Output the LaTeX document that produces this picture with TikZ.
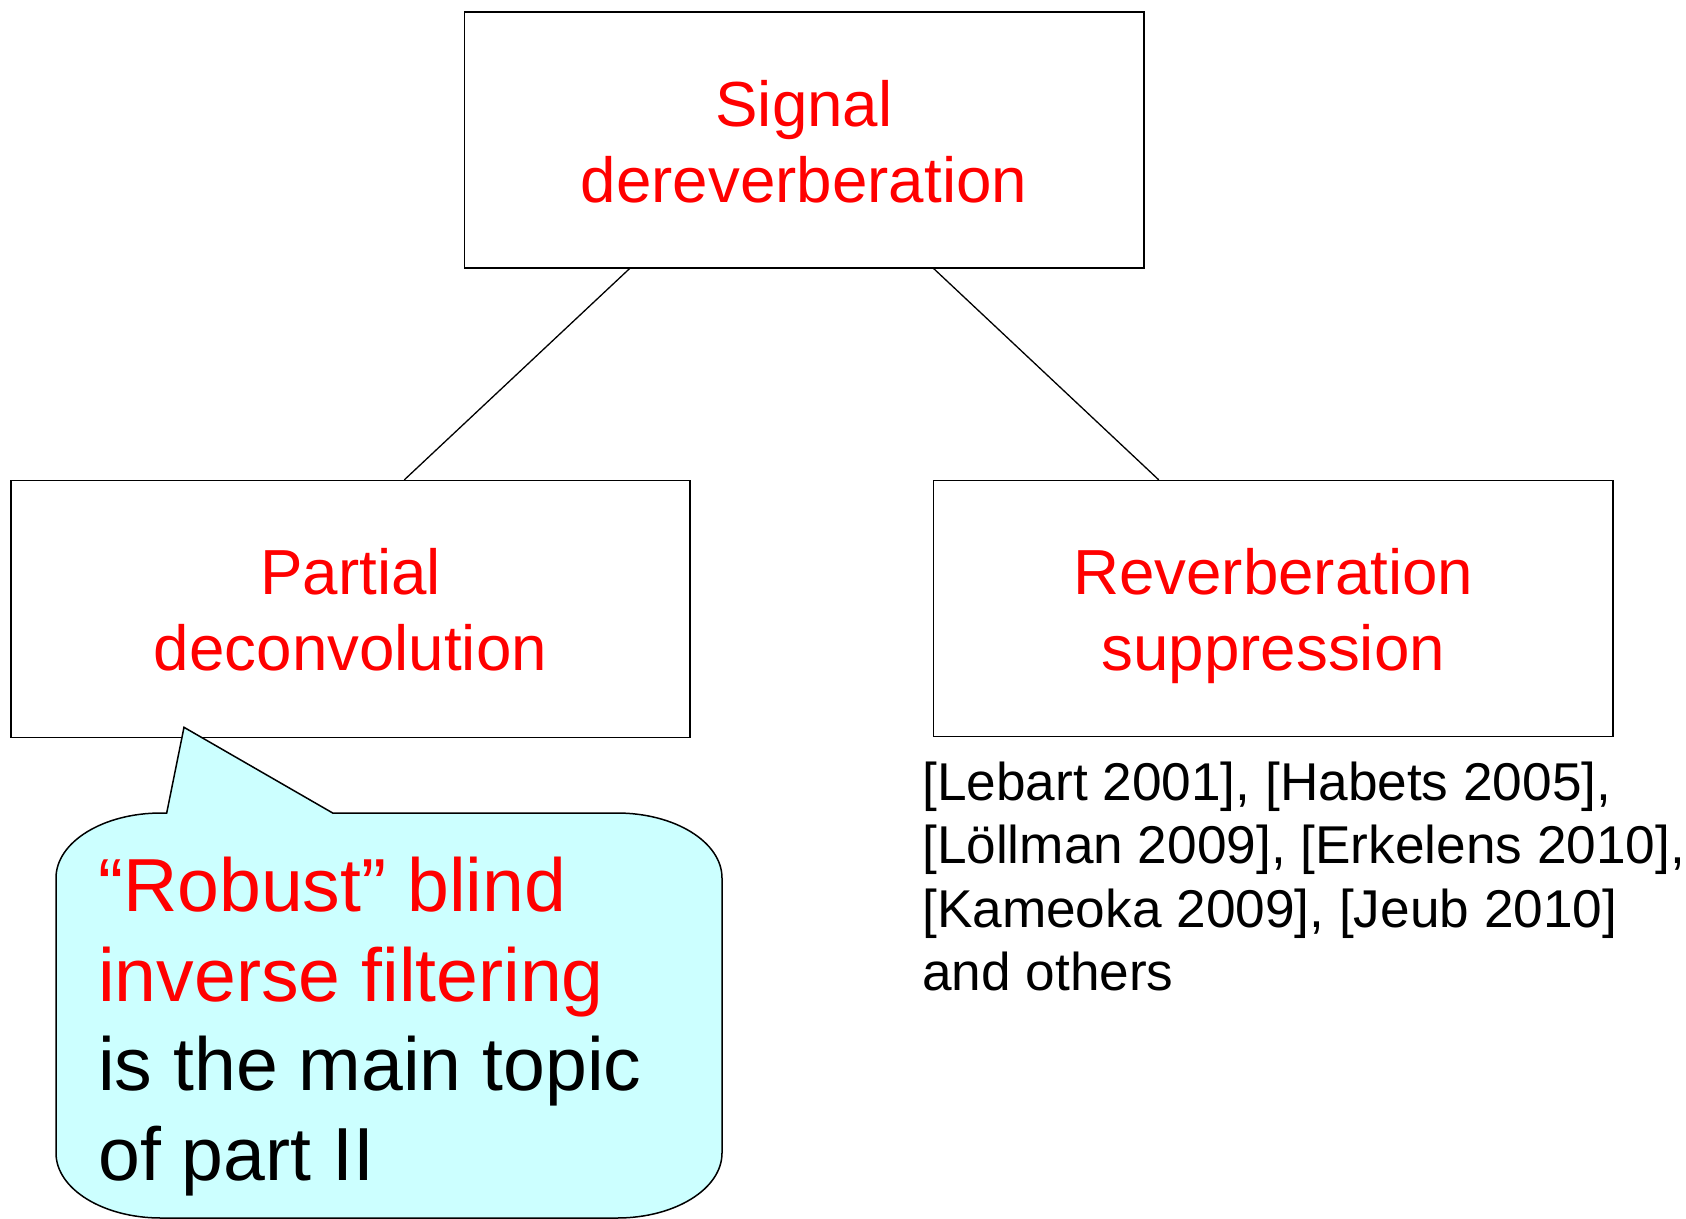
\documentclass[tikz,border=0pt]{standalone}
\usepackage{fontspec}
\setmainfont{Liberation Sans}
\usetikzlibrary{calc}
\definecolor{calloutfill}{RGB}{204,255,255}
\definecolor{headred}{RGB}{255,0,0}

\begin{document}
\begin{tikzpicture}[x=1pt,y=-1pt,
  box/.style={draw=black, line width=1.6pt, rectangle, inner sep=0pt, fill=white},
  boxtext/.style={text=headred, align=center, inner sep=0pt,
    font=\fontsize{63.7}{75.5}\selectfont},
  link/.style={draw=black, line width=1.3pt},
  bubble/.style={draw=black, line width=1.5pt, fill=calloutfill, line join=miter},
  bubbletext/.style={text=black, align=left, inner sep=0pt,
    font=\fontsize{75.2}{89.5}\selectfont},
  reftext/.style={text=black, align=left, inner sep=0pt,
    font=\fontsize{53.2}{63.5}\selectfont}]

\useasboundingbox[fill=white] (0,0) rectangle (1686,1218);

% the three category boxes
\node[box, minimum width=679.5, minimum height=256] (top) at (804.25,139.75) {};
\node[box, minimum width=679.5, minimum height=257] (left) at (350.5,609.15) {};
\node[box, minimum width=679.6, minimum height=256] (right) at (1273.2,608.65) {};

% box labels, anchored on the baseline of their last line
\node[boxtext, anchor=base] (toptxt) at (804,202) {Signal\\dereverberation};
\node[boxtext, anchor=base] (lefttxt) at (350.5,670) {Partial\\deconvolution};
\node[boxtext, anchor=base] (righttxt) at (1273.2,670) {Reverberation\\suppression};

% tree connectors
\draw[link] ($(top.south west)!0.2436!(top.south east)$) -- ($(left.north west)!0.579!(left.north east)$);
\draw[link] ($(top.south west)!0.690!(top.south east)$) -- ($(right.north west)!0.332!(right.north east)$);

% references under the right box
\node[reftext, anchor=base west] (refs) at (922,990.5)
  {{[}Lebart 2001], [Habets 2005],\\
   {[}Löllman 2009], [Erkelens 2010],\\
   {[}Kameoka 2009], [Jeub 2010]\\
   and others};

% speech bubble pointing at the left box
\path[bubble] (166.7,813) -- (184,727.3) -- (332.7,813) -- (617,813)
  arc[start angle=-90, end angle=0, x radius=105, y radius=65]
  -- (722,1153)
  arc[start angle=0, end angle=90, x radius=105, y radius=65]
  -- (161,1218)
  arc[start angle=90, end angle=180, x radius=105, y radius=65]
  -- (56,878)
  arc[start angle=180, end angle=270, x radius=105, y radius=65]
  -- cycle;

\node[bubbletext, anchor=base west] (note) at (98,1180)
  {\textcolor{headred}{“Robust” blind}\\
   \textcolor{headred}{inverse filtering}\\
   is the main topic\\
   of part II};

\end{tikzpicture}
\end{document}
